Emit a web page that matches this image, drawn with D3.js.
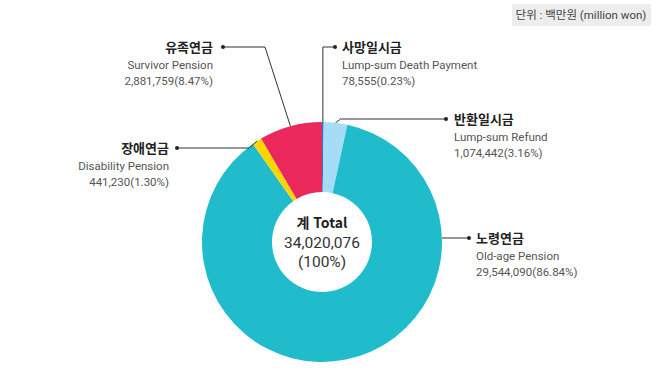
<!DOCTYPE html>
<html lang="ko">
<head>
<meta charset="utf-8" />
<script src="https://cdn.jsdelivr.net/npm/d3@7"></script>
<style>
  body { margin: 0; background: #fff; }
  text { font-family: Roboto, "Noto Sans CJK KR", sans-serif; }
  .ko { font-family: "Noto Sans CJK KR", sans-serif; }
</style>
</head>
<body>
<div id="chart"></div>
<script>
// data, in drawing order starting at 12 o'clock, clockwise
var namesKo = ["사망일시금", "반환일시금", "노령연금", "장애연금", "유족연금"];
var namesEn = ["Lump-sum Death Payment", "Lump-sum Refund", "Old-age Pension", "Disability Pension", "Survivor Pension"];
var values = [78555, 1074442, 29544090, 441230, 2881759];
var percents = ["0.23%", "3.16%", "86.84%", "1.30%", "8.47%"];
var colors = ["#1f7fd0", "#a6dcf5", "#20bccb", "#fdd500", "#ea285c"];
var total = 34020076;

var width = 658, height = 373;
var cx = 322, cy = 242, outerR = 120, innerR = 50;

var svg = d3.select("#chart").append("svg")
    .attr("width", width)
    .attr("height", height);

// unit box
svg.append("rect")
    .attr("x", 512).attr("y", 4).attr("width", 139).attr("height", 22)
    .attr("fill", "#ededed");
svg.append("text")
    .attr("x", 581).attr("y", 19)
    .attr("text-anchor", "middle")
    .attr("font-size", 11.5)
    .attr("fill", "#444")
    .text("단위 : 백만원 (million won)");

var pie = d3.pie().sort(null).value(d => d);
var arcs = pie(values);
var arc = d3.arc().innerRadius(innerR).outerRadius(outerR);

var g = svg.append("g").attr("transform", "translate(" + cx + "," + cy + ")");
g.selectAll("path")
    .data(arcs)
    .enter()
    .append("path")
    .attr("d", arc)
    .attr("fill", (d, i) => colors[i]);

// centre text
var fmt = d3.format(",");
g.append("text").attr("y", -14).attr("text-anchor", "middle")
    .attr("class", "ko")
    .attr("font-size", 14).attr("font-weight", "bold").attr("fill", "#222")
    .text("계 Total");
g.append("text").attr("y", 6).attr("text-anchor", "middle")
    .attr("font-size", 15.5).attr("fill", "#333")
    .text(fmt(total));
g.append("text").attr("y", 25).attr("text-anchor", "middle")
    .attr("font-size", 15.5).attr("fill", "#333")
    .text("(100%)");

function edge(d) {
    var a = (d.startAngle + d.endAngle) / 2;
    return [cx + outerR * Math.sin(a), cy - outerR * Math.cos(a)];
}

// label layout: anchor (dot) position, text side, text x
var labels = [
    { dot: [335, 47], tx: 342, anchor: "start" },
    { dot: [446, 119], tx: 454, anchor: "start" },
    { dot: [469, 238], tx: 476, anchor: "start" },
    { dot: [177, 148], tx: 169, anchor: "end" },
    { dot: [223, 47], tx: 213, anchor: "end" }
];

var pts = arcs.map(function (d, i) {
    var p = edge(d), L = labels[i];
    if (i == 0) return [p, [p[0], L.dot[1]], L.dot];
    if (i == 1) return [p, [p[0] + 5, L.dot[1]], L.dot];
    if (i == 2) {
        var dy = L.dot[1] - cy;
        return [[cx + Math.sqrt(outerR * outerR - dy * dy), L.dot[1]], L.dot];
    }
    if (i == 3) return [p, [p[0] - 8, L.dot[1]], L.dot];
    return [p, [265, L.dot[1]], L.dot];
});

svg.selectAll(".leader")
    .data(pts)
    .enter()
    .append("polyline")
    .attr("class", "leader")
    .attr("points", d => d.map(p => p.join(",")).join(" "))
    .attr("fill", "none")
    .attr("stroke", "#333")
    .attr("stroke-width", 1);

svg.selectAll(".dot")
    .data(labels)
    .enter()
    .append("circle")
    .attr("cx", d => d.dot[0]).attr("cy", d => d.dot[1])
    .attr("r", 2).attr("fill", "#222");

var lab = svg.selectAll(".lab")
    .data(labels)
    .enter()
    .append("text")
    .attr("text-anchor", d => d.anchor);

lab.append("tspan")
    .attr("class", "ko")
    .attr("x", d => d.tx).attr("y", d => d.dot[1] + 4.5)
    .attr("font-size", 13).attr("font-weight", "bold").attr("fill", "#222")
    .text((d, i) => namesKo[i]);
lab.append("tspan")
    .attr("x", d => d.tx).attr("y", d => d.dot[1] + 22)
    .attr("font-size", 11.5).attr("fill", "#555")
    .text((d, i) => namesEn[i]);
lab.append("tspan")
    .attr("x", d => d.tx).attr("y", d => d.dot[1] + 38)
    .attr("font-size", 11.5).attr("fill", "#555")
    .text((d, i) => fmt(values[i]) + "(" + percents[i] + ")");
</script>
</body>
</html>
